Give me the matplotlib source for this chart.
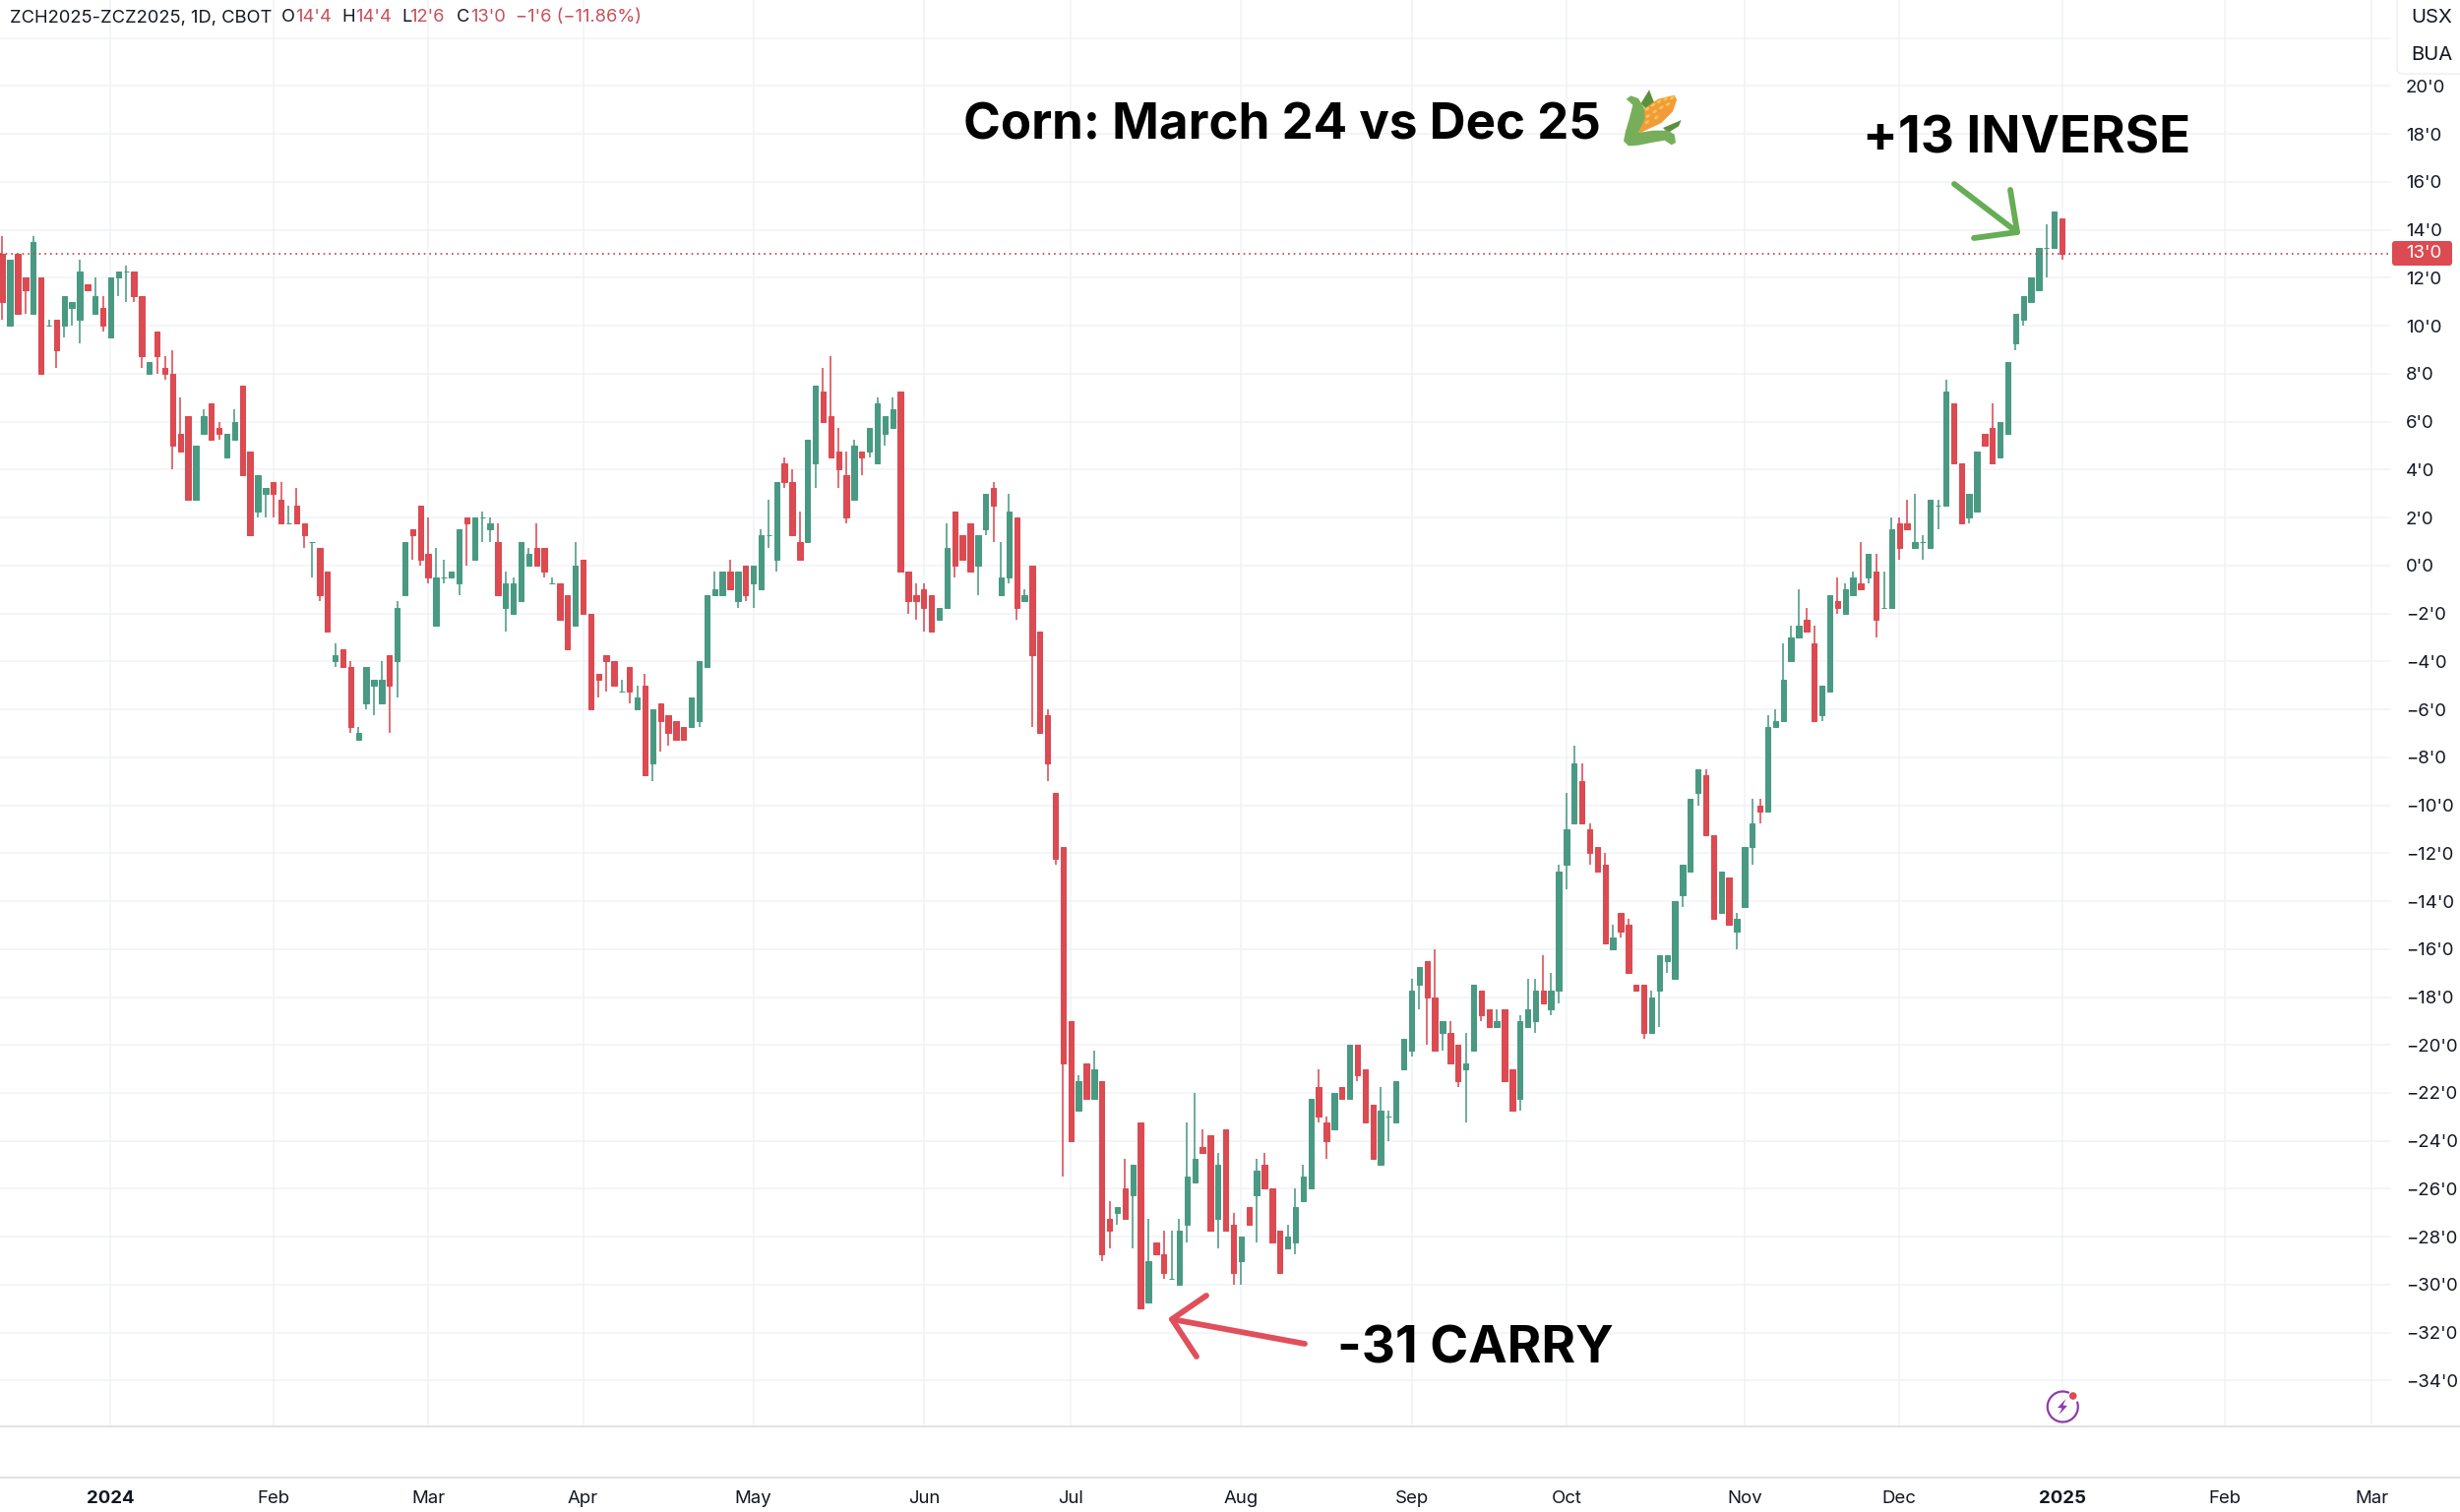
import matplotlib
matplotlib.use("Agg")
import matplotlib.pyplot as plt
from matplotlib.patches import Polygon, Ellipse, Circle, Arc, FancyBboxPatch

plt.rcParams['font.family'] = ['Inter', 'DejaVu Sans']

opens = [13,10,13,12,10.5,12,10,10.25,10,10.75,
 10.25,11.75,10.5,10.75,9.5,12,12.25,12.25,11.25,8,
 9.75,8.25,8,5.5,6.25,2.75,5.5,6.75,5.75,4.5,
 5.25,7.5,4.75,2.25,3,3.5,2.75,1.75,2.5,1.75,
 1,.75,-.25,-4,-3.5,-4.25,-7.25,-5.75,-5,-5.75,
 -3.75,-4,-1.25,1.5,2.5,.5,-2.5,-.5,-.5,-.75,
 2,.25,2,1.5,1,-1.75,-2,-1.5,0,.75,
 .75,-.75,-.75,-1.25,-2.5,.25,-2,-4.5,-3.75,-4,
 -5.25,-4.25,-6,-5,-8.25,-5.75,-6.25,-6.5,-6.75,-6.75,
 -6.5,-4.25,-1.25,-1.25,-.25,-1.5,0,-.75,-1,1.25,
 .25,4.25,3.5,1,1,4.25,7.25,6.25,4.75,3.75,
 2.75,4.75,4.75,4.25,5.5,5.75,7.25,-.25,-1.25,-1,
 -1.25,-2.25,-1.75,2.25,1.25,1.75,0,1.5,3.25,-1.25,
 -.5,2,-1.5,0,-2.75,-6.25,-9.5,-11.75,-19,-22.75,
 -20.75,-22.25,-21.5,-27.25,-27,-26,-26.25,-23.25,-30.75,-28.25,
 -28.75,-29.75,-30,-27.5,-25.75,-24.25,-23.75,-27.25,-23.5,-27.5,
 -29,-26.75,-26.25,-25,-26,-27.75,-28.5,-28.25,-26.5,-26,
 -21.75,-23.25,-23.5,-21.75,-22.25,-20,-21,-22.5,-25,-23,
 -23.25,-21,-20.25,-17.5,-16.5,-18,-19.5,-19.5,-20,-21,
 -20.25,-17.75,-18.5,-19.25,-18.5,-21,-22.25,-19.25,-19,-17.75,
 -18.5,-17.75,-12.5,-10.75,-9,-11,-11.75,-12.5,-16,-14.5,
 -15,-17.5,-17.5,-19.5,-17.75,-16.5,-17.25,-13.75,-12.75,-9.5,
 -8.75,-11.25,-14.5,-13,-15.25,-14.25,-11.75,-10,-10.25,-6.75,
 -6.5,-4,-3,-2.25,-3.25,-6.25,-5.25,-1.5,-2,-1.25,
 -.75,-.5,-.25,-1.75,-1.75,1.75,1.75,.75,1,.75,
 2.5,2.5,6.75,4.25,2,2.25,5.5,5.75,4.5,5.5,
 9.25,10.25,11,11.5,13.25,13.25,14.5]

highs = [13.75,12.75,13,12,13.75,12,10.25,10.25,11.25,11,
 12.75,11.75,12,11.25,12,12.25,12.5,12.25,11.25,8.5,
 9.75,8.75,9,7,6.25,5,6.5,6.75,6,5.5,
 6.5,7.5,4.75,3.75,3.25,3.5,3.5,2.5,3.25,1.75,
 1,.75,-.25,-3.25,-3.5,-4,-6.75,-4.25,-4.75,-4,
 -3.75,-1.5,1,1.5,2.5,2,.75,.25,-.25,1.5,
 2,2,2.25,2,1.75,-.25,-.5,1,.75,1.75,
 .75,-.5,-.75,-1.25,1,.25,-2,-4.5,-3.75,-4,
 -4.75,-4.25,-5,-4.5,-6,-5.75,-6.25,-6.5,-6.75,-5.5,
 -4,-1.25,-.25,-.25,.25,-.25,0,0,1.5,2.75,
 3.5,4.5,4,2.25,5.25,7.5,8.25,8.75,5.75,4.75,
 5.25,4.75,5.75,7,6.25,7,7.25,-.25,-.75,-.75,
 -1.25,-1.75,1.75,2.25,1.25,1.75,1.25,3,3.5,1,
 3,2,-1,0,-2.75,-6,-9.5,-11.75,-19,-21.25,
 -20.75,-20.25,-21.5,-26.5,-26.75,-24.75,-25,-23.25,-27.25,-28.25,
 -27.75,-27.75,-27.25,-23.25,-22,-23.5,-23.75,-24.5,-23.5,-27,
 -28,-26.75,-24.75,-24.5,-26,-27.75,-27.5,-26,-25,-22.25,
 -21,-23,-22,-21.75,-20,-20,-21,-22.5,-21.75,-22.75,
 -21.5,-19.75,-17.25,-16.75,-16.5,-16,-19,-19,-20,-19.5,
 -17.5,-17.75,-18.5,-18.5,-18.5,-21,-18.75,-17.25,-17.25,-16.25,
 -17,-12.5,-9.5,-7.5,-8.25,-10.75,-11.75,-12,-15,-14.5,
 -14.75,-17.5,-17.5,-17.75,-16.25,-16.25,-14,-12.5,-9.75,-8.5,
 -8.5,-11.25,-12.75,-13,-14.5,-11.75,-9.75,-9.75,-6.25,-6,
 -3.25,-2.5,-1,-1.75,-2.5,-5,-1.25,-.5,-.75,-.25,
 1,.5,.5,-.25,2,2,2.75,3,1.25,2.75,
 2.75,7.75,6.75,4.25,3,4.75,5.5,6.75,6,8.5,
 10.5,11.25,12,13.25,14.25,14.75,14.5]

lows = [10.25,10,10.5,10.5,10.5,8,10,8.25,9.5,10,
 9.25,11.5,10.5,9.75,9.5,11.25,11,11,8.25,8,
 8,7.75,4,4.75,2.75,2.75,5.5,5.25,5.25,4.5,
 5.25,3.75,1.25,2,2,2,1.75,1.75,1.75,.75,
 -.5,-1.5,-2.75,-4.25,-4.25,-7,-7.25,-6,-6.25,-5.75,
 -7,-5.5,-1.25,.25,0,-.75,-2.5,-.75,-.5,-1.25,
 0,.25,1,1,-1.25,-2.75,-2,-1.5,0,0,
 -.5,-.75,-2.25,-3.5,-2.5,-2,-6,-5.5,-5.25,-5,
 -5.25,-5.75,-6,-8.75,-9,-7.75,-7.5,-7.25,-7.25,-6.75,
 -6.75,-4.25,-1.25,-1.25,-1,-1.75,-1.5,-1.75,-1,.75,
 -.25,3.25,1.25,.25,1,3.25,6,4.5,3.25,1.75,
 2.75,3.75,4.5,4.25,5,5.75,-.25,-2,-2.25,-2.75,
 -2.75,-2.25,-1.75,-.5,.25,-.25,-1.25,1.25,1,-1.25,
 -.75,-2.25,-1.5,-6.75,-7,-9,-12.5,-25.5,-24,-22.75,
 -22.25,-22.25,-29,-28.5,-27.5,-27.25,-28.5,-31,-30.75,-28.75,
 -29.75,-29.75,-30,-28.25,-25.75,-24.5,-27.75,-28.5,-27.75,-30,
 -30,-27.5,-28.25,-26,-28.25,-29.5,-28.5,-28.75,-26.5,-26,
 -23.25,-24.75,-23.5,-22.25,-22.25,-21.5,-23.25,-24.75,-25,-24,
 -23.25,-21,-20.5,-18.5,-20,-20.25,-20.25,-20.75,-21.75,-23.25,
 -20.25,-19,-19.25,-19.25,-21.5,-22.75,-22.75,-19.25,-19.5,-18.25,
 -18.75,-18.25,-13.5,-10.75,-10.75,-12.5,-12.75,-15.75,-16,-15.5,
 -17,-17.75,-19.75,-19.5,-19.25,-17,-17.25,-14.25,-12.75,-10,
 -11.25,-14.75,-14.5,-15,-16,-14.25,-12.5,-10.75,-10.25,-6.75,
 -6.5,-4,-3,-2.75,-6.5,-6.5,-5.25,-2,-2,-1.25,
 -1,-.75,-3,-1.75,-1.75,.25,1.5,.75,.25,.75,
 1.5,2.5,4.25,1.75,1.75,2.25,5,4.25,4.5,5.5,
 9,10,11,11.5,12,13.25,12.75]

closes = [11,12.75,10.5,11.5,13.5,8,10,9,11.25,11,
 12.25,11.5,11.25,10,12,12.25,12.25,11.25,8.75,8.5,
 8.75,8,5,4.75,2.75,5,6.25,5.25,5.5,5.5,
 6,3.75,1.25,3.75,3.25,3,1.75,1.75,1.75,1.25,
 1,-1.25,-2.75,-3.75,-4.25,-6.75,-7,-4.25,-4.75,-4.75,
 -5,-1.75,1,1.25,.25,-.5,-.5,-.5,-.25,1.5,
 1.75,2,2,1.75,-1.25,-.75,-.75,1,.5,0,
 -.25,-.75,-2.25,-3.5,0,-2,-6,-4.75,-4,-5,
 -5.25,-5.25,-5.5,-8.75,-6,-6.5,-7,-7.25,-7.25,-5.5,
 -4,-1.25,-1,-.25,-1,-.25,-1.25,0,1.25,1.25,
 3.5,3.5,1.25,.25,5.25,7.5,6,4.5,4,2,
 5,4.5,5.75,6.75,6.25,6.5,-.25,-1.5,-1.5,-1.75,
 -2.75,-1.75,.75,0,.25,-.25,1.25,3,2.5,-.5,
 2.25,-1.75,-1.25,-3.75,-7,-8.25,-12.25,-20.75,-24,-21.5,
 -22.25,-21,-28.75,-27.75,-26.75,-27.25,-25,-31,-29,-28.75,
 -29.5,-29.75,-27.75,-25.5,-24.75,-24.5,-27.75,-25,-27.75,-29.5,
 -28,-27.5,-25.25,-26,-28.25,-29.5,-28,-26.75,-25.5,-22.25,
 -23,-24,-22,-22.25,-20,-21.25,-23.25,-24.75,-22.75,-23,
 -21.5,-19.75,-17.75,-16.75,-18,-20.25,-19,-20.75,-21.5,-20.75,
 -17.5,-18.75,-19.25,-19,-21.5,-22.75,-19,-18.5,-17.75,-18.25,
 -17.75,-12.75,-11,-8.25,-10.75,-12,-12.75,-15.75,-15.5,-15.25,
 -17,-17.75,-19.5,-18,-16.25,-16.25,-14,-12.5,-9.75,-8.5,
 -11.25,-14.75,-12.75,-15,-14.75,-11.75,-10.75,-10.25,-6.75,-6.5,
 -4.75,-3,-2.5,-2.75,-6.5,-5,-1.25,-1.75,-1,-.5,
 -1,.5,-2.25,-1.75,1.5,.75,1.5,1,1,2.75,
 2.5,7.25,4.25,1.75,3,4.75,5,4.25,6,8.5,
 10.5,11.25,12,13.25,13.25,14.75,13]

month_bars = [14,35,55,75,97,119,138,160,182,202,225,245,266,287,306]
month_labels = ['2024','Feb','Mar','Apr','May','Jun','Jul','Aug','Sep','Oct','Nov','Dec','2025','Feb','Mar']
bold_labels = {'2024','2025'}
price_ticks = list(range(-34, 24, 2))
last_close = 13

UP, DOWN = '#4a9a83', '#dc4a52'
GRID = '#f1f2f6'

def price_label(v):
    if v == 22:
        return ''
    return (f"\u2212{-v}'0" if v < 0 else f"{v}'0")

fig = plt.figure(figsize=(25, 15.37), dpi=100, facecolor='white')
ax = fig.add_axes([0, 88/1537, 2430/2500, 1449/1537])
ax.set_xlim(-0.292, 308.5)
ax.set_ylim(-35.87, 23.59)
for s in ax.spines.values():
    s.set_visible(False)
ax.yaxis.tick_right()
ax.set_yticks(price_ticks)
ax.set_yticklabels([price_label(v) for v in price_ticks])
ax.set_xticks(month_bars)
ax.set_xticklabels(month_labels)
ax.tick_params(axis='y', length=0, pad=10.8, labelsize=13.4, labelcolor='#131722')
ax.tick_params(axis='x', length=0, pad=47.5, labelsize=13.4, labelcolor='#131722')
for t in ax.get_xticklabels():
    if t.get_text() in bold_labels:
        t.set_fontweight('bold')
ax.grid(True, color=GRID, linewidth=1.1, zorder=0)
ax.set_axisbelow(True)

xs = list(range(len(opens)))
colors = [UP if c >= o else DOWN for o, c in zip(opens, closes)]
ax.vlines(xs, lows, highs, colors=colors, linewidth=1.15, zorder=2)
ax.bar(xs, [abs(c - o) for o, c in zip(opens, closes)],
       bottom=[min(o, c) for o, c in zip(opens, closes)],
       width=0.68, color=colors, edgecolor=colors, linewidth=0.75, zorder=3)
ax.axhline(last_close, color='#b8434e', linewidth=1.2, linestyle=(0, (1, 2.4)), zorder=4)

# pixel-space overlay for annotations and chrome
ov = fig.add_axes([0, 0, 1, 1], facecolor='none')
ov.set_xlim(0, 2500)
ov.set_ylim(1537, 0)
ov.axis('off')

ov.plot([0, 2500], [1449.5, 1449.5], color='#e2e3e8', lw=1.5)
ov.plot([0, 2500], [1501.7, 1501.7], color='#e2e3e8', lw=1.5)

# header
hdr_dark, hdr_red = '#131722', '#c8505c'
hdr = [(10, 'ZCH2025-ZCZ2025, 1D, CBOT', hdr_dark), (286, 'O', hdr_dark), (300, "14'4", hdr_red),
       (347, 'H', hdr_dark), (361, "14'4", hdr_red), (408, 'L', hdr_dark), (416, "12'6", hdr_red),
       (464, 'C', hdr_dark), (478, "13'0", hdr_red), (524, "\u22121'6 (\u221211.86%)", hdr_red)]
for x, s, c in hdr:
    ov.text(x, 18, s, color=c, fontsize=13.2, ha='left', va='center')

# currency / unit box
ov.add_patch(FancyBboxPatch((2436, -20), 90, 95, boxstyle='round,pad=0,rounding_size=6',
                            fc='white', ec='#eeeff3', lw=1.0, zorder=5))
ov.text(2450, 18, 'USX', fontsize=14.6, color='#131722', ha='left', va='center', zorder=6)
ov.text(2450, 56, 'BUA', fontsize=14.6, color='#131722', ha='left', va='center', zorder=6)

# last-price tag
ov.add_patch(FancyBboxPatch((2431, 245), 61, 25, boxstyle='round,pad=0,rounding_size=3',
                            fc='#dc4a52', ec='none', zorder=5))
ov.text(2445, 258, "13'0", fontsize=13.4, color='white', ha='left', va='center', zorder=6)

# big annotations
ov.text(979, 128, 'Corn: March 24 vs Dec 25', fontsize=36.8, fontweight='bold', color='black',
        ha='left', va='center')
ov.text(1893, 142, '+13 INVERSE', fontsize=38, fontweight='bold', color='black', ha='left', va='center')
ov.text(1359, 1372, '-31 CARRY', fontsize=38, fontweight='bold', color='black', ha='left', va='center')

# arrows
GREEN_A, RED_A = '#66ad55', '#e0505a'
for pts, col in [([(1986, 187), (2050, 236)], GREEN_A), ([(2043, 193), (2050, 236), (2006, 242)], GREEN_A),
                 ([(1326, 1366), (1191, 1341)], RED_A), ([(1226, 1317), (1191, 1341), (1216, 1379)], RED_A)]:
    ov.plot([p[0] for p in pts], [p[1] for p in pts], color=col, lw=4.2,
            solid_capstyle='round', solid_joinstyle='round', zorder=6)

# corn emoji drawn from shapes (no colour emoji font available)
def z(pts):
    return [(1600 + a / 3, 80 + b / 3) for a, b in pts]
ov.add_patch(Polygon(z([(203, 75), (228, 34), (243, 72), (225, 100)]), fc='#5c913b', ec='none', zorder=6))
ov.add_patch(Polygon(z([(270, 150), (326, 126), (318, 145), (285, 165)]), fc='#5c913b', ec='none', zorder=6))
ov.add_patch(Polygon(z([(208, 95), (255, 62), (305, 50), (312, 65), (300, 100), (265, 135), (195, 168)]),
                     fc='#f19c36', ec='none', zorder=7))
for a, b in [(222, 92), (240, 80), (258, 70), (278, 62), (298, 58), (224, 114), (245, 100), (265, 88), (285, 78),
             (222, 132), (250, 118)]:
    cx, cy = z([(a, b)])[0]
    ov.add_patch(Ellipse((cx, cy), 5, 3, angle=-35, fc='#f8c25e', ec='none', zorder=8))
ov.add_patch(Polygon(z([(158, 62), (172, 52), (195, 60), (212, 88), (215, 120), (195, 165), (240, 158), (285, 158),
                        (305, 170), (309, 195), (296, 202), (275, 188), (235, 195), (195, 203), (165, 205),
                        (150, 190), (156, 160), (168, 120), (178, 80)]), fc='#77ae59', ec='none', zorder=9))

# lightning badge
cx, cy = 2096.3, 1430
ov.add_patch(Arc((cx, cy), 31, 31, theta1=-20, theta2=295, ec='#8e3ba8', lw=1.6, zorder=6))
ov.add_patch(Polygon([(2099.5, 1422), (2091, 1431), (2095.5, 1431.5), (2092.5, 1438), (2101, 1429), (2096.5, 1428.5)],
                     fc='#8e3ba8', ec='none', zorder=6))
ov.add_patch(Circle((2106.7, 1419), 3.8, fc='#dc4a52', ec='none', zorder=7))

fig.savefig('out.png', dpi=100)
